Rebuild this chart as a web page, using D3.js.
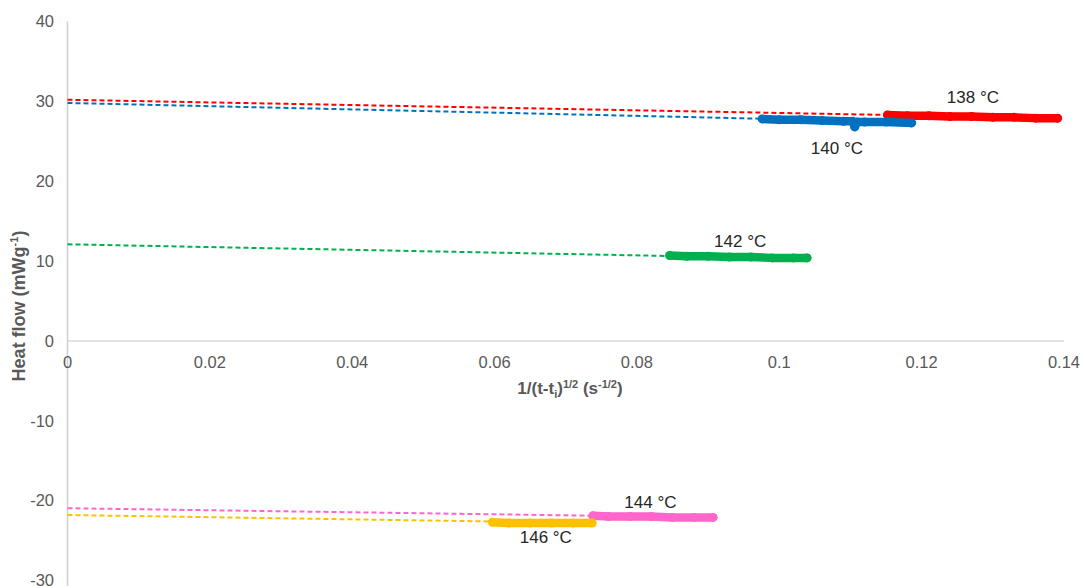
<!DOCTYPE html>
<html>
<head>
<meta charset="utf-8">
<script src="https://cdn.jsdelivr.net/npm/d3@7"></script>
<style>
  html, body { margin: 0; padding: 0; background: #fff; }
  svg { display: block; font-family: "Liberation Sans", Arial, sans-serif; }
</style>
</head>
<body>
<svg id="chart" width="1081" height="586"></svg>
<script>
// ---- data ----
const seriesNames = ["138 °C", "140 °C", "142 °C", "144 °C", "146 °C"];
const seriesColors = ["#FF0000", "#0070C0", "#00B050", "#FF66CC", "#FFC000"];

const x138 = [0.1152, 0.1180, 0.1210, 0.1240, 0.1270, 0.1300, 0.1330, 0.1360, 0.1391];
const y138 = [28.3, 28.2, 28.2, 28.1, 28.1, 28.0, 28.0, 27.9, 27.9];

const x140 = [0.0976, 0.1000, 0.1030, 0.1060, 0.1090, 0.1103, 0.1106, 0.1109, 0.1120, 0.1150, 0.1186];
const y140 = [27.8, 27.7, 27.7, 27.6, 27.5, 27.5, 26.8, 27.4, 27.4, 27.4, 27.3];

const x142 = [0.0846, 0.0870, 0.0900, 0.0930, 0.0960, 0.0990, 0.1020, 0.1039];
const y142 = [10.7, 10.6, 10.6, 10.5, 10.5, 10.4, 10.4, 10.4];

const x144 = [0.0738, 0.0760, 0.0790, 0.0820, 0.0850, 0.0880, 0.0907];
const y144 = [-21.9, -22.0, -22.0, -22.0, -22.1, -22.1, -22.1];

const x146 = [0.0597, 0.0620, 0.0650, 0.0680, 0.0710, 0.0737];
const y146 = [-22.7, -22.8, -22.8, -22.8, -22.8, -22.8];

// linear trendlines: value at x = 0 and value at end of the series
const trendStart = [30.2, 29.8, 12.1, -20.95, -21.8];
const trendEnd   = [27.9, 27.4, 10.3, -22.1, -22.8];

// label anchor positions (data coordinates)
const labelX = [0.1272, 0.1081, 0.0945, 0.0819, 0.0672];
const labelY = [30.6, 24.2, 12.5, -20.2, -24.6];

const xTicks = [0, 0.02, 0.04, 0.06, 0.08, 0.1, 0.12, 0.14];
const yTicks = [-30, -20, -10, 0, 10, 20, 30, 40];

const seriesX = [x138, x140, x142, x144, x146];
const seriesY = [y138, y140, y142, y144, y146];

// ---- layout ----
const svg = d3.select("#chart");
const x = d3.scaleLinear().domain([0, 0.14]).range([67.5, 1064]);
const y = d3.scaleLinear().domain([-30, 40]).range([580.5, 21.5]);

// axes lines
svg.append("line")
  .attr("x1", x(0)).attr("x2", x(0.14))
  .attr("y1", y(0)).attr("y2", y(0))
  .attr("stroke", "#d9d9d9").attr("stroke-width", 1.5);
svg.append("line")
  .attr("x1", x(0)).attr("x2", x(0))
  .attr("y1", y(40)).attr("y2", 586)
  .attr("stroke", "#d0d0d0").attr("stroke-width", 1.5);

// y tick labels
svg.append("g").selectAll("text").data(yTicks).join("text")
  .attr("x", 54).attr("y", d => y(d))
  .attr("dy", "0.35em")
  .attr("text-anchor", "end")
  .attr("font-size", 16.5).attr("fill", "#595959")
  .text(d => d);

// x tick labels
svg.append("g").selectAll("text").data(xTicks).join("text")
  .attr("x", d => x(d)).attr("y", y(0) + 27)
  .attr("text-anchor", "middle")
  .attr("font-size", 16.5).attr("fill", "#595959")
  .text(d => d3.format("")(d));

// trendlines
seriesNames.forEach((n, i) => {
  const xs = seriesX[i];
  const pts = [[0, trendStart[i]], [xs[xs.length - 1], trendEnd[i]]];
  svg.append("path")
    .attr("d", d3.line().x(d => x(d[0])).y(d => y(d[1]))(pts))
    .attr("fill", "none")
    .attr("stroke", seriesColors[i])
    .attr("stroke-width", 2)
    .attr("stroke-dasharray", "5,3");
});

// data series (dense markers rendered as thick band + markers)
seriesNames.forEach((n, i) => {
  const pts = seriesX[i].map((v, k) => [v, seriesY[i][k]]);
  svg.append("path")
    .attr("d", d3.line().x(d => x(d[0])).y(d => y(d[1]))(pts))
    .attr("fill", "none")
    .attr("stroke", seriesColors[i])
    .attr("stroke-width", 8.5)
    .attr("stroke-linecap", "round")
    .attr("stroke-linejoin", "round");
  svg.append("g").selectAll("circle").data(pts).join("circle")
    .attr("cx", d => x(d[0])).attr("cy", d => y(d[1]))
    .attr("r", 4.5).attr("fill", seriesColors[i]);
});

// series labels
seriesNames.forEach((n, i) => {
  svg.append("text")
    .attr("x", x(labelX[i])).attr("y", y(labelY[i]))
    .attr("dy", "0.35em")
    .attr("text-anchor", "middle")
    .attr("font-size", 17).attr("fill", "#262626")
    .text(n);
});

// y axis title
const yt = svg.append("text")
  .attr("transform", "translate(25,306) rotate(-90)")
  .attr("text-anchor", "middle")
  .attr("font-size", 18).attr("font-weight", "bold").attr("fill", "#595959");
yt.append("tspan").text("Heat flow (mWg");
yt.append("tspan").attr("font-size", 11).attr("dy", -7).text("-1");
yt.append("tspan").attr("dy", 7).text(")");

// x axis title
const xt = svg.append("text")
  .attr("x", 570).attr("y", 394)
  .attr("text-anchor", "middle")
  .attr("font-size", 17).attr("font-weight", "bold").attr("fill", "#595959");
xt.append("tspan").text("1/(t-t");
xt.append("tspan").attr("font-size", 11).attr("dy", 4).text("i");
xt.append("tspan").attr("dy", -4).text(")");
xt.append("tspan").attr("font-size", 11).attr("dy", -6).text("1/2");
xt.append("tspan").attr("dy", 6).text(" (s");
xt.append("tspan").attr("font-size", 11).attr("dy", -6).text("-1/2");
xt.append("tspan").attr("dy", 6).text(")");
</script>
</body>
</html>
